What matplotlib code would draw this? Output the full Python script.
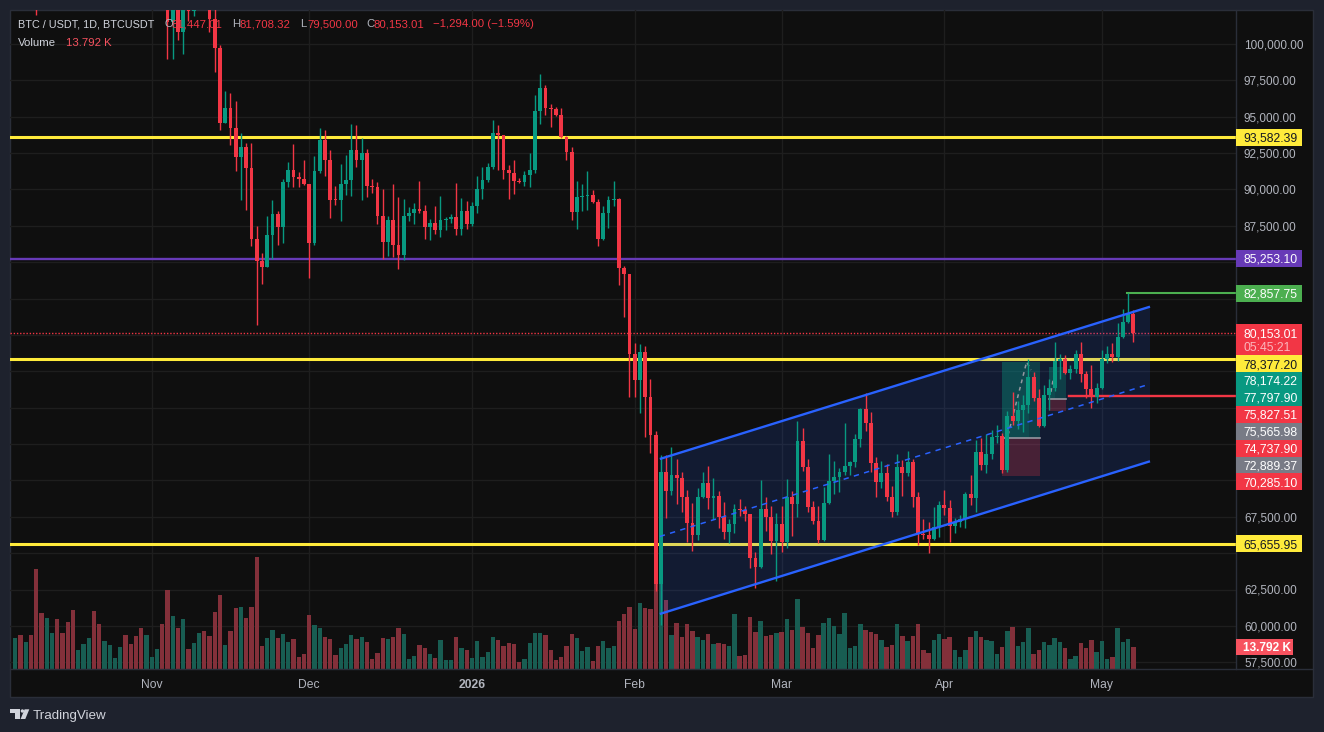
import numpy as np
import pandas as pd
import matplotlib
matplotlib.use("Agg")
import matplotlib.pyplot as plt
import matplotlib.dates as mdates
from matplotlib.patches import Rectangle, Polygon, Circle
from matplotlib.lines import Line2D
from matplotlib.transforms import IdentityTransform, blended_transform_factory

# ---------------- data (prices in thousand USDT, volume in thousand BTC) ----------------
dates = pd.date_range("2025-10-06", "2026-05-07", freq="D")
first_open = 123.5

close_oct = [124.7, 121.4, 123.3, 121.7, 113.2, 110.6, 115.2, 115.3, 113.1, 110.8, 108.2, 106.4, 107.2,
             108.6, 110.5, 108.4, 107.6, 110.0, 111.0, 111.6, 114.5, 114.1, 112.9, 110.0, 108.3, 109.6]
high_oct = [126.2, 125.1, 124.2, 123.8, 122.5, 113.4, 115.8, 116.0, 115.4, 113.6, 111.1, 109.2, 107.5,
            109.5, 111.7, 114.0, 109.1, 111.0, 112.0, 111.9, 115.0, 116.4, 116.1, 113.6, 111.6, 111.2]
low_oct = [123.1, 120.6, 121.0, 119.7, 102.0, 109.6, 109.7, 113.6, 109.9, 110.2, 107.5, 103.5, 106.4,
           106.1, 107.4, 107.4, 103.5, 107.4, 109.4, 110.6, 111.3, 113.8, 112.2, 109.2, 106.3, 108.0]
vol_oct = [19.7, 21.4, 17.1, 21.4, 62.7, 35.3, 32.0, 22.5, 31.5, 22.5, 29.5, 36.9, 11.6,
           15.7, 19.7, 36.4, 28.2, 17.6, 15.2, 7.0, 13.8, 21.4, 15.7, 20.6, 25.7, 21.4]

close_nov = [110.1, 110.6, 106.5, 101.5, 103.9, 100.8, 103.3, 102.3, 104.7, 105.9, 103.0, 101.7, 99.75, 94.6, 95.6,
             94.2, 92.2, 92.95, 91.5, 86.6, 85.1, 84.7, 86.85, 88.3, 87.4, 90.5, 91.35, 90.85, 90.75, 90.35]
high_nov = [110.6, 111.2, 110.8, 106.6, 104.5, 104.0, 104.0, 103.4, 105.5, 106.7, 107.0, 105.3, 103.9, 99.9, 96.8,
            96.6, 96.1, 93.9, 93.2, 93.2, 87.5, 85.65, 88.2, 89.25, 88.5, 90.7, 91.9, 93.1, 91.2, 92.0]
low_nov = [109.4, 109.5, 105.3, 99.0, 99.0, 100.3, 99.3, 101.6, 101.9, 104.3, 102.6, 100.85, 98.1, 94.1, 94.6,
           93.05, 91.3, 89.3, 88.6, 86.1, 80.7, 83.5, 84.7, 85.2, 86.15, 86.3, 90.15, 90.2, 90.2, 90.3]
vol_nov = [7.5, 12.4, 28.2, 49.7, 33.4, 25.7, 31.5, 12.4, 16.3, 22.5, 23.8, 20.6, 35.8, 46.4, 15.2,
           23.8, 38.2, 38.9, 32.0, 38.9, 70.3, 14.4, 19.7, 24.4, 19.7, 21.7, 17.1, 18.9, 7.5, 9.7]

close_dec = [86.3, 91.25, 93.4, 92.05, 89.3, 89.25, 90.35, 90.65, 92.7, 92.0, 92.5, 90.25, 90.2, 88.2, 86.4, 87.9,
             86.2, 85.5, 88.2, 88.4, 88.65, 88.55, 87.45, 87.7, 87.2, 87.9, 87.95, 88.1, 87.25, 88.5, 87.6]
high_dec = [90.4, 92.3, 94.2, 94.1, 92.7, 90.25, 91.75, 92.4, 94.5, 94.45, 93.55, 92.75, 90.7, 90.5, 90.05, 88.2,
            90.35, 89.45, 89.35, 88.8, 89.1, 90.6, 88.9, 88.0, 88.85, 89.55, 88.1, 88.3, 90.45, 89.4, 89.2]
low_dec = [83.9, 86.2, 91.1, 90.95, 88.05, 88.95, 87.8, 89.6, 89.55, 91.55, 89.3, 89.5, 89.75, 87.6, 85.2, 85.45,
           85.35, 84.5, 85.15, 87.8, 87.6, 88.4, 86.6, 86.5, 86.95, 86.7, 87.2, 87.7, 86.85, 86.85, 87.3]
vol_dec = [33.9, 27.6, 25.7, 20.0, 19.0, 9.0, 13.0, 15.7, 21.4, 18.6, 20.0, 16.7, 6.5, 10.0, 19.5, 18.5,
           20.3, 25.8, 21.7, 6.0, 8.2, 15.2, 13.3, 9.3, 7.1, 18.0, 5.4, 5.4, 20.0, 13.0, 11.9]

close_jan = [88.85, 90.0, 90.65, 91.55, 93.88, 93.73, 91.34, 91.1, 90.6, 90.5, 91.0, 91.34, 95.37, 96.97, 95.57, 95.5,
             95.12, 93.64, 92.59, 88.42, 89.46, 89.55, 89.64, 89.16, 86.6, 88.4, 89.28, 89.35, 84.63, 84.19, 78.69]
high_jan = [89.15, 90.95, 91.55, 91.85, 94.77, 94.44, 93.75, 91.7, 92.05, 90.8, 91.3, 92.53, 96.47, 97.96, 97.15, 95.87,
            95.66, 95.57, 93.7, 92.9, 90.6, 90.38, 91.27, 89.96, 89.35, 88.86, 89.55, 90.58, 89.4, 84.74, 84.2]
low_jan = [87.5, 88.4, 89.35, 90.5, 91.4, 91.31, 90.74, 89.37, 89.7, 90.45, 90.27, 90.2, 91.1, 94.53, 95.12, 94.3,
           95.04, 93.57, 92.0, 87.9, 87.28, 88.54, 88.6, 89.1, 86.14, 86.5, 87.37, 88.88, 83.43, 81.2, 75.76]
vol_jan = [7.1, 17.3, 7.6, 10.8, 20.3, 18.4, 14.4, 16.3, 15.7, 4.3, 6.0, 16.3, 22.5, 22.5, 21.4, 11.6,
           5.7, 7.6, 14.4, 22.0, 19.5, 11.3, 13.8, 5.0, 14.4, 17.6, 13.2, 14.4, 30.1, 34.5, 38.9]

close_feb = [76.9, 78.8, 75.76, 73.12, 62.88, 70.6, 69.3, 70.37, 70.14, 68.84, 67.1, 66.25, 68.84, 69.84,
             68.82, 68.95, 67.5, 66.48, 67.0, 68.04, 67.97, 67.67, 64.65, 64.07, 68.04, 67.47, 65.86, 67.0]
high_feb = [79.47, 79.38, 79.24, 76.97, 73.4, 71.75, 71.75, 72.32, 71.47, 70.6, 69.34, 68.43, 69.46, 70.55,
            70.99, 70.14, 69.27, 68.5, 67.35, 68.38, 68.72, 68.24, 67.7, 65.06, 70.03, 68.88, 68.27, 67.74]
low_feb = [75.76, 74.66, 73.0, 71.9, 62.4, 60.06, 67.4, 69.0, 68.36, 67.85, 65.8, 65.17, 65.9, 68.8,
           68.04, 67.35, 66.7, 65.95, 65.68, 66.36, 67.57, 67.23, 63.96, 62.58, 63.96, 66.55, 64.94, 63.1]
vol_feb = [25.1, 41.4, 38.2, 37.6, 103.9, 90.3, 43.3, 21.3, 28.8, 20.1, 28.2, 23.8, 20.1, 18.2,
           21.9, 15.7, 16.3, 15.7, 14.4, 34.5, 8.2, 8.8, 32.6, 23.2, 30.1, 20.7, 21.3, 22.8]

close_mar = [65.8, 68.88, 68.36, 72.73, 70.9, 68.15, 67.23, 65.9, 68.47, 69.96, 70.26, 70.6, 71.0, 71.24, 72.83, 74.9,
             73.93, 71.22, 69.92, 70.5, 68.88, 67.85, 70.9, 70.53, 71.28, 68.84, 66.32, 66.28, 65.95, 66.78, 68.3]
high_mar = [68.24, 70.1, 69.27, 74.08, 73.62, 71.47, 68.59, 68.24, 69.53, 71.82, 71.33, 70.87, 73.92, 71.35, 73.17, 75.0,
            75.99, 74.68, 71.59, 71.35, 71.1, 69.62, 71.82, 71.4, 72.02, 71.45, 69.23, 67.35, 67.17, 68.15, 68.6]
low_mar = [65.1, 65.33, 66.2, 67.47, 70.67, 67.8, 66.99, 65.68, 65.85, 68.4, 69.05, 69.23, 70.37, 70.37, 70.9, 72.32,
           73.42, 70.56, 68.84, 69.46, 68.6, 67.47, 67.6, 68.95, 70.3, 68.2, 65.56, 65.95, 65.03, 65.9, 66.09]
vol_mar = [23.4, 31.3, 24.5, 43.9, 26.5, 22.8, 13.2, 21.3, 28.8, 32.0, 27.0, 21.9, 35.1, 13.2, 14.4, 28.2,
           24.5, 23.2, 21.9, 18.2, 13.8, 15.0, 28.2, 20.7, 17.6, 20.7, 28.2, 11.9, 10.0, 18.2, 21.9]

close_apr = [68.13, 66.89, 67.13, 67.33, 69.05, 68.8, 71.97, 71.07, 71.8, 73.0, 73.07, 70.72, 74.43, 74.11, 74.84,
             75.19, 77.13, 75.69, 73.76, 75.87, 76.37, 78.21, 78.33, 77.36, 77.66, 78.69, 77.31, 76.29, 75.76, 76.37]
high_apr = [69.34, 68.65, 67.4, 67.6, 69.19, 70.37, 72.78, 72.9, 73.19, 73.47, 73.81, 73.24, 74.8, 76.1, 75.48,
            75.87, 78.33, 77.43, 76.26, 76.56, 76.95, 79.54, 78.69, 78.62, 77.93, 78.97, 79.54, 77.54, 77.93, 76.68]
low_apr = [67.6, 65.79, 66.36, 66.82, 66.7, 68.3, 67.8, 70.7, 70.49, 71.47, 72.6, 70.49, 70.6, 73.81, 73.51,
           73.35, 74.61, 75.48, 73.7, 73.7, 74.84, 76.17, 76.97, 77.3, 76.97, 77.36, 76.79, 75.69, 75.0, 75.34]
vol_apr = [18.8, 20.1, 11.9, 7.5, 11.9, 20.1, 23.8, 20.1, 18.2, 17.6, 9.4, 13.8, 23.8, 26.3, 14.4,
           16.9, 25.7, 9.4, 11.9, 16.9, 15.0, 19.4, 16.9, 13.2, 6.3, 8.2, 16.3, 13.2, 18.2, 10.7]

close_may = [78.33, 78.69, 78.5, 79.84, 80.9, 81.44701, 80.15301]
high_may = [78.97, 79.24, 79.47, 80.84, 81.78, 82.85775, 81.70832]
low_may = [76.3, 78.1, 78.16, 78.23, 79.8, 80.8, 79.5]
vol_may = [17.6, 6.3, 7.5, 25.7, 16.9, 18.8, 13.792]

closes = np.array(close_oct + close_nov + close_dec + close_jan + close_feb + close_mar + close_apr + close_may) * 1000
highs = np.array(high_oct + high_nov + high_dec + high_jan + high_feb + high_mar + high_apr + high_may) * 1000
lows = np.array(low_oct + low_nov + low_dec + low_jan + low_feb + low_mar + low_apr + low_may) * 1000
volumes = np.array(vol_oct + vol_nov + vol_dec + vol_jan + vol_feb + vol_mar + vol_apr + vol_may)
opens = np.concatenate([[first_open * 1000], closes[:-1]])

# drawings on the chart
yellow_levels = [93582.39, 78377.20, 65655.95]
purple_level = 85253.10
last_price = 80153.01
recent_high = 82857.75
recent_high_from = "2026-05-05 17:00"
red_level = 75827.51
red_level_from = "2026-04-24 18:00"
channel_dates = ["2026-02-05 19:00", "2026-05-10 04:00"]
channel_upper = [71473, 81942]
channel_lower = [60819, 71315]
# long positions: start, end, target-hit date, target, entry, stop
pos_start = ["2026-04-12 00:00", "2026-04-20 22:00"]
pos_end = ["2026-04-19 05:00", "2026-04-24 04:00"]
pos_hit = ["2026-04-17 03:00", "2026-04-22 02:00"]
pos_target = [78174.22, 77797.90]
pos_entry = [72889.37, 75565.98]
pos_stop = [70285.10, 74737.90]
path_dates = [["2026-04-13 03:00", "2026-04-16 16:00", "2026-04-17 12:00"],
              ["2026-04-21 07:00", "2026-04-22 04:00", "2026-04-22 19:00"]]
path_prices = [[73122, 78140, 77590], [76078, 77797, 77522]]

month_ticks = ["2025-11-01", "2025-12-01", "2026-01-01", "2026-02-01", "2026-03-01", "2026-04-01", "2026-05-01"]
month_labels = ["Nov", "Dec", "2026", "Feb", "Mar", "Apr", "May"]
price_ticks = np.arange(57500, 100001, 2500)

axis_label_prices = [93582.39, 85253.10, 82857.75, 80153.01, 78377.20, 78174.22, 77797.90,
                     75827.51, 75565.98, 74737.90, 72889.37, 70285.10, 65655.95]
countdown = "05:45:21"
last_volume = 13.792

# ---------------- style ----------------
W, H = 1324, 732
BG = "#0f0f0f"
FRAME = "#1e222d"
BORDER = "#2a2e39"
GRID = "#1e1e1e"
TXT = "#b2b5be"
UP = "#089981"
DOWN = "#f23645"
VOL_UP = "#185d52"
VOL_DOWN = "#83303a"
YELLOW = "#ffeb3b"
BLUE = "#2962ff"
label_faces = [YELLOW, "#673ab7", "#4caf50", DOWN, YELLOW, UP, UP, DOWN, "#787b86", DOWN, "#787b86", DOWN, YELLOW]
label_texts = ["#131722", "white", "white", "white", "#131722", "white", "white", "white", "white",
               "white", "white", "white", "#131722"]

plt.rcParams["font.family"] = ["Liberation Sans", "DejaVu Sans"]
ID = IdentityTransform()


def num(s):
    return mdates.date2num(pd.Timestamp(s).to_pydatetime())


fig = plt.figure(figsize=(W / 100, H / 100), dpi=100, facecolor=FRAME)
fig.add_artist(Rectangle((10, H - 697), 1303, 687, transform=ID, facecolor=BG, edgecolor=BORDER, lw=1, zorder=-1))

rect = [10 / W, (H - 669) / H, 1226 / W, 659 / H]
ax_v = fig.add_axes(rect, zorder=0)
ax = fig.add_axes(rect, zorder=1, sharex=ax_v)
for a in (ax, ax_v):
    a.axis("off")

x = mdates.date2num(dates.to_pydatetime())
nov1 = num("2025-11-01")
ax_v.set_xlim(nov1 - 26.99, nov1 + 206.55)
ax.set_ylim(57037, 102337)
ax_v.set_ylim(0, 659 / 1.595)

# grid
price_tr = blended_transform_factory(ax_v.transAxes, ax.transData)
for p in price_ticks:
    ax_v.plot([0, 1], [p, p], transform=price_tr, color=GRID, lw=1, zorder=0)
for m in month_ticks:
    ax_v.axvline(num(m), color=GRID, lw=1, zorder=0)

# volume
up = closes >= opens
ax_v.bar(x, volumes, width=0.82, color=np.where(up, VOL_UP, VOL_DOWN), linewidth=0, zorder=2)

# horizontal levels
for lv in yellow_levels:
    ax.axhline(lv, color=YELLOW, lw=2.2, zorder=1)
ax.axhline(purple_level, color="#673ab7", lw=1.7, zorder=1)
ax.axhline(last_price, color=DOWN, lw=1, ls=(0, (1, 1.3)), zorder=1)
xr = ax_v.get_xlim()[1]
ax.plot([num(recent_high_from), xr], [recent_high, recent_high], color="#4caf50", lw=1.5, zorder=3)
ax.plot([num(red_level_from), xr], [red_level, red_level], color=DOWN, lw=1.7, zorder=3)

# channel
cx = [num(d) for d in channel_dates]
ax.add_patch(Polygon([(cx[0], channel_upper[0]), (cx[1], channel_upper[1]),
                      (cx[1], channel_lower[1]), (cx[0], channel_lower[0])],
                     closed=True, facecolor=BLUE, alpha=0.15, edgecolor="none", zorder=2))

# long position tools
for i in range(2):
    x0, x1, xh = num(pos_start[i]), num(pos_end[i]), num(pos_hit[i])
    ax.add_patch(Rectangle((x0, pos_entry[i]), x1 - x0, pos_target[i] - pos_entry[i],
                           facecolor=UP, alpha=0.28, edgecolor="none", zorder=2.5))
    ax.add_patch(Rectangle((x0, pos_entry[i]), xh - x0, pos_target[i] - pos_entry[i],
                           facecolor=UP, alpha=0.14, edgecolor="none", zorder=2.6))
    ax.add_patch(Rectangle((x0, pos_stop[i]), x1 - x0, pos_entry[i] - pos_stop[i],
                           facecolor=DOWN, alpha=0.24, edgecolor="none", zorder=2.5))
    ax.plot([x0, x1], [pos_entry[i], pos_entry[i]], color="#9598a1", lw=1.2, zorder=2.7)
    ax.plot([num(d) for d in path_dates[i]], path_prices[i], color="#9598a1", lw=1.1,
            ls=(0, (2.5, 2.5)), zorder=2.8)

# candles
ccol = np.where(up, UP, DOWN)
ax.vlines(x, lows, highs, colors=ccol, lw=1, zorder=4)
ax.bar(x, np.maximum(np.abs(closes - opens), 70), bottom=np.minimum(opens, closes), width=0.72,
       color=ccol, linewidth=0, zorder=4.5)

# channel lines
mid = [(channel_upper[0] + channel_lower[0]) / 2, (channel_upper[1] + channel_lower[1]) / 2]
ax.plot(cx, channel_upper, color=BLUE, lw=1.7, zorder=6, solid_capstyle="butt")
ax.plot(cx, channel_lower, color=BLUE, lw=1.7, zorder=6, solid_capstyle="butt")
ax.plot(cx, mid, color=BLUE, lw=1.1, ls=(0, (3.5, 3.5)), zorder=6)

# separators of the panel
fig.add_artist(Line2D([1236, 1236], [H - 669, H - 10], transform=ID, color=BORDER, lw=1, zorder=2))
fig.add_artist(Line2D([10, 1313], [H - 669, H - 669], transform=ID, color=BORDER, lw=1, zorder=2))


def disp_y(price):
    return ax.transData.transform((nov1, price))[1]


# stacked price labels on the scale (they push each other down like on the original)
LH = 16.9
prev_bottom = 1e9
boxes = []
order = sorted(range(len(axis_label_prices)), key=lambda k: -axis_label_prices[k])
for k in order:
    price = axis_label_prices[k]
    yc = disp_y(price)
    if yc + LH / 2 > prev_bottom:
        yc = prev_bottom - LH / 2
    extra = 14 if price == last_price else 0
    bottom = yc - LH / 2 - extra
    boxes.append((bottom, yc + LH / 2))
    fig.add_artist(Rectangle((1236, bottom), 66, LH + extra, transform=ID, facecolor=label_faces[k],
                             edgecolor="none", zorder=5))
    fig.text(1243, yc - 4.4, f"{price:,.2f}", transform=ID, color=label_texts[k], fontsize=8.8,
             va="baseline", ha="left", zorder=6)
    if extra:
        fig.text(1243, yc - 14 - 4.4, countdown, transform=ID, color="#fbb6bc", fontsize=8.8,
                 va="baseline", ha="left", zorder=6)
    prev_bottom = bottom

# volume label
yv = ax_v.transData.transform((nov1, last_volume))[1]
fig.add_artist(Rectangle((1236, yv - 8), 57, 16, transform=ID, facecolor="#f7525f", edgecolor="none", zorder=5))
fig.text(1243, yv - 4.4, f"{last_volume:.3f} K", transform=ID, color="white",
         fontsize=8.6, fontweight="bold", va="baseline", ha="left", zorder=6)
boxes.append((yv - 8, yv + 8))

# price scale: ticks hidden behind a label box are not drawn
for p in price_ticks:
    yd = disp_y(p)
    if any(yd - 4.5 < t and yd + 4.5 > b for b, t in boxes):
        continue
    fig.text(1244, yd - 4.3, f"{p:,.2f}", transform=ID, color=TXT, fontsize=8.5, va="baseline",
             ha="left", zorder=3)

# time scale
for m, lab in zip(month_ticks, month_labels):
    xd = ax.transData.transform((num(m), 0))[0]
    fig.text(xd, H - 684 - 4.2, lab, transform=ID, color=TXT, fontsize=8.7, va="baseline", ha="center",
             fontweight="bold" if lab == "2026" else "normal", zorder=3)

# legend / header
hy1, hy2 = H - 27.3, H - 46
fig.text(18.3, hy1, "BTC / USDT, 1D, BTCUSDT", transform=ID, color="#d1d4dc", fontsize=7.8, zorder=7)
o, hh, ll, c = opens[-1], highs[-1], lows[-1], closes[-1]
parts = [(164.7, "O", TXT), (171.7, f"{o:,.2f}", DOWN), (232.5, "H", TXT), (240, f"{hh:,.2f}", DOWN),
         (300.5, "L", TXT), (307, f"{ll:,.2f}", DOWN), (366.7, "C", TXT), (374, f"{c:,.2f}", DOWN),
         (433.3, f"\u2212{o - c:,.2f} (\u2212{(o - c) / o * 100:.2f}%)", DOWN)]
for px, s, col in parts:
    fig.text(px, hy1, s, transform=ID, color=col, fontsize=8.2, zorder=7)
fig.text(18.3, hy2, "Volume", transform=ID, color="#d1d4dc", fontsize=8.2, zorder=7)
fig.text(65.7, hy2, f"{last_volume:.3f} K", transform=ID, color="#f7525f", fontsize=8.2, zorder=7)

# TradingView mark
LOGO = "#d1d4dc"
fig.add_artist(Polygon([(10, H - 709.3), (20, H - 709.3), (20, H - 719), (15.3, H - 719), (15.3, H - 712.7),
                        (10, H - 712.7)], closed=True, transform=ID, facecolor=LOGO, edgecolor="none", zorder=3))
fig.add_artist(Circle((22.4, H - 711), 1.7, transform=ID, facecolor=LOGO, edgecolor="none", zorder=3))
fig.add_artist(Polygon([(24.6, H - 709.3), (29.3, H - 709.3), (25.3, H - 719), (20.6, H - 719)], closed=True,
                       transform=ID, facecolor=LOGO, edgecolor="none", zorder=3))
fig.text(33, H - 718.5, "TradingView", transform=ID, color=LOGO, fontsize=9.6, va="baseline", zorder=3)

fig.savefig("out.png", dpi=100, facecolor=FRAME)
